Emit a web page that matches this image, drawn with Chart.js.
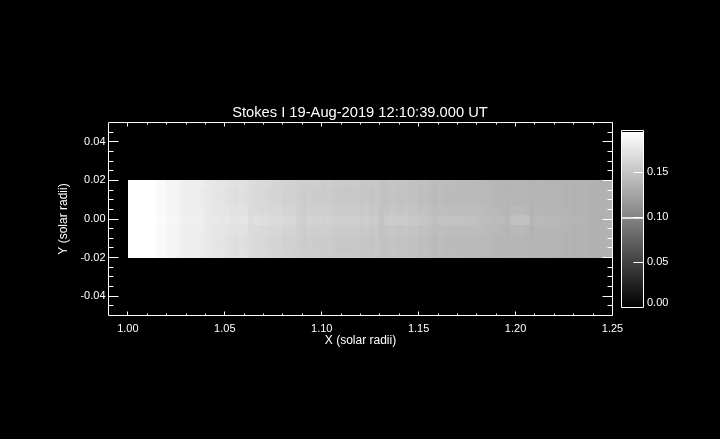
<!DOCTYPE html>
<html>
<head>
<meta charset="utf-8">
<title>Stokes I</title>
<script src="https://cdn.jsdelivr.net/npm/chart.js@4"></script>
<style>
  html, body { margin: 0; padding: 0; width: 720px; height: 439px; background: #000; overflow: hidden; }
  canvas { position: absolute; left: 0; top: 0; }
</style>
</head>
<body>
<canvas id="image" width="720" height="439"></canvas>
<canvas id="colorbar" width="720" height="439"></canvas>
<script>
// Stokes I readings in 1e-3 units, one list per row type, 100 columns from x = 1.00 to 1.25
const rowEdge = [
  230,225,218,212,206,200,192,192,188,188,187,184,183,183,183,182,179,178,177,176,
  175,173,172,173,172,169,168,167,167,165,164,164,162,162,161,159,158,159,158,158,
  157,158,156,155,155,155,155,155,153,154,152,153,150,150,152,151,150,151,149,149,
  147,148,146,144,146,145,144,145,144,144,143,143,143,142,142,141,141,140,139,140,
  139,140,139,138,139,139,138,138,138,138,137,138,137,137,138,137,137,136,137,137];
const rowOuter = [
  230,225,218,212,206,200,192,192,188,188,187,184,183,183,182,181,178,177,176,175,
  174,172,171,172,171,168,167,166,166,164,163,163,161,161,160,158,157,158,157,157,
  156,157,155,154,154,154,154,154,152,153,151,152,149,149,151,150,149,150,148,148,
  146,147,145,143,145,144,143,144,143,143,143,143,143,142,142,141,141,140,139,140,
  139,140,139,138,139,139,138,138,138,138,137,138,137,137,138,137,137,136,137,137];
const rowInner = [
  230,225,218,212,206,200,192,192,188,188,187,184,183,183,183,182,179,178,177,176,
  176,174,173,174,173,168,168,167,167,165,165,165,163,163,162,159,157,160,159,159,
  158,159,157,156,156,156,156,156,154,155,153,154,149,151,153,152,151,152,150,150,
  148,149,147,145,146,146,145,146,145,145,145,145,145,144,143,142,142,141,139,142,
  142,142,141,137,140,140,139,139,139,139,138,138,137,137,138,137,137,136,137,137];
const rowCentre = [
  230,225,218,212,206,200,193,193,189,189,188,185,184,184,184,183,180,179,178,177,
  178,176,175,176,175,170,172,171,171,169,168,168,166,166,165,161,159,163,162,162,
  161,162,160,159,159,159,159,159,157,158,156,157,150,155,157,156,155,156,154,154,
  152,152,151,147,149,150,149,150,149,148,148,148,147,146,145,144,144,143,141,148,
  148,148,148,139,143,143,142,142,142,141,140,139,139,138,138,137,137,136,137,137];

// the rows from y = 0.02 down to y = -0.02
const rowTops = [0.02,0.0175,0.015,0.0125,0.01,0.0075,0.005,0.0025,0,-0.0025,-0.005,-0.0075,-0.01,-0.0125,-0.015,-0.0175];
const rowProfiles = [rowEdge,rowOuter,rowOuter,rowOuter,rowOuter,rowInner,rowInner,rowCentre,
  rowCentre,rowInner,rowInner,rowOuter,rowOuter,rowOuter,rowOuter,rowEdge];

const cellSize = 0.0025;
const rowOverlap = 0.0006; // rows overlap a little so no black seam shows between them
const firstColumn = 1.0;
const colorMax = 0.196;
const colorbarLine = [0.0986, 0.0996];

const titleText = "Stokes I 19-Aug-2019 12:10:39.000 UT";
const xAxisLabel = "X (solar radii)";
const yAxisLabel = "Y (solar radii)";

const xMajorTicks = [1.00,1.05,1.10,1.15,1.20,1.25];
const xMinorTicks = [1.01,1.02,1.03,1.04,1.06,1.07,1.08,1.09,1.11,1.12,1.13,1.14,1.16,1.17,1.18,1.19,1.21,1.22,1.23,1.24];
const yMajorTicks = [-0.04,-0.02,0,0.02,0.04];
const yMinorTicks = [-0.045,-0.035,-0.03,-0.025,-0.015,-0.01,-0.005,0.005,0.01,0.015,0.025,0.03,0.035,0.045];
const barMajorTicks = [0.05,0.10,0.15];
const barLabelValues = [0.0045,0.05,0.10,0.15]; // IDL lifts the 0.00 label off the bottom of the bar
const barLabels = ["0.00","0.05","0.10","0.15"];

Chart.defaults.color = "#fff";
Chart.defaults.font.family = "'Liberation Sans', sans-serif";
Chart.defaults.font.size = 11;
Chart.defaults.animation = false;
Chart.defaults.devicePixelRatio = 1;
Chart.defaults.responsive = false;
Chart.defaults.events = [];
Chart.defaults.plugins.legend.display = false;
Chart.defaults.plugins.tooltip.enabled = false;

function greyFor(milli) {
  const g = Math.min(255, Math.round(milli / 1000 / colorMax * 255));
  return "rgb(" + g + "," + g + "," + g + ")";
}

function crisp(p) { return Math.round(p - 0.5) + 0.5; }

// IDL style box: frame plus inward ticks on the sides listed in the chart's options
const idlBox = {
  id: "idlBox",
  afterDraw(chart, args, opts) {
    const { ctx, chartArea: a, scales } = chart;
    ctx.save();
    ctx.strokeStyle = "#fff";
    ctx.lineWidth = 1;
    ctx.beginPath();
    ctx.rect(a.left, a.top, a.right - a.left, a.bottom - a.top);
    const hTick = (v, len, left, right) => {
      const y = crisp(scales.y.getPixelForValue(v));
      if (left) { ctx.moveTo(a.left, y); ctx.lineTo(a.left + len, y); }
      if (right) { ctx.moveTo(a.right, y); ctx.lineTo(a.right - len, y); }
    };
    (opts.yMajor || []).forEach(v => hTick(v, opts.yMajorLen, opts.leftTicks, true));
    (opts.yMinor || []).forEach(v => hTick(v, opts.yMinorLen, opts.leftTicks, true));
    const vTick = (v, len) => {
      const x = crisp(scales.x.getPixelForValue(v));
      ctx.moveTo(x, a.bottom); ctx.lineTo(x, a.bottom - len);
      ctx.moveTo(x, a.top); ctx.lineTo(x, a.top + len);
    };
    (opts.xMajor || []).forEach(v => vTick(v, opts.xMajorLen));
    (opts.xMinor || []).forEach(v => vTick(v, opts.xMinorLen));
    ctx.stroke();
    ctx.restore();
  }
};

const imageDatasets = rowProfiles.map((profile, r) => ({
  data: profile.map((v, c) => ({
    x: firstColumn + (c + 0.5) * cellSize,
    y: [rowTops[r] - cellSize - rowOverlap, rowTops[r] + rowOverlap]
  })),
  backgroundColor: profile.map(greyFor),
  grouped: false,
  barPercentage: 1.25,
  categoryPercentage: 1,
  borderWidth: 0,
  // the clip gives the block hard edges on whole pixels: 128 to the frame, 180 to 258
  clip: { left: -19.5, right: 0, top: -57.5, bottom: -57.5 }
}));

new Chart(document.getElementById("image"), {
  type: "bar",
  data: { datasets: imageDatasets },
  options: {
    plugins: {
      title: {
        display: true,
        text: titleText,
        color: "#fff",
        font: { size: 14.7, weight: "normal" },
        padding: { top: 104, bottom: 0.9 }
      },
      idlBox: {
        leftTicks: true,
        xMajor: xMajorTicks, xMinor: xMinorTicks, xMajorLen: 4, xMinorLen: 2,
        yMajor: yMajorTicks, yMinor: yMinorTicks, yMajorLen: 10, yMinorLen: 5
      }
    },
    scales: {
      x: {
        type: "linear",
        offset: false,
        min: 0.99,
        max: 1.25,
        grid: { display: false, drawTicks: false },
        border: { display: false },
        afterBuildTicks: s => { s.ticks = xMajorTicks.map(v => ({ value: v })); },
        afterFit: s => { s.height = 123.5; },
        ticks: { padding: 6.5, maxRotation: 0, autoSkip: false, color: "#fff", callback: v => v.toFixed(2) },
        title: { display: true, text: xAxisLabel, color: "#fff", font: { size: 12 }, padding: { top: 0, bottom: 91 } }
      },
      y: {
        type: "linear",
        min: -0.05,
        max: 0.05,
        grid: { display: false, drawTicks: false },
        border: { display: false },
        afterBuildTicks: s => { s.ticks = yMajorTicks.map(v => ({ value: v })); },
        afterFit: s => { s.width = 108.5; },
        ticks: { padding: 3, autoSkip: false, color: "#fff", callback: v => v.toFixed(2) },
        title: { display: true, text: yAxisLabel, color: "#fff", font: { size: 12 }, padding: { top: 56, bottom: 0 } }
      },
      // empty right axis keeps the plot box where it belongs and the title centred on the page
      rightGap: {
        type: "linear",
        position: "right",
        grid: { display: false, drawTicks: false },
        border: { display: false },
        ticks: { display: false },
        afterFit: s => { s.width = 107.5; }
      }
    }
  },
  plugins: [idlBox]
});

new Chart(document.getElementById("colorbar"), {
  type: "bar",
  data: {
    labels: ["I"],
    datasets: [
      {
        data: [colorbarLine],
        backgroundColor: "#fff",
        grouped: false,
        barPercentage: 1,
        categoryPercentage: 1
      },
      {
        data: [[0, colorMax]],
        backgroundColor: ctx => {
          const area = ctx.chart.chartArea;
          if (!area) return "#888";
          const g = ctx.chart.ctx.createLinearGradient(0, area.bottom, 0, area.top);
          g.addColorStop(0, "#000");
          g.addColorStop(0.991, "#fff");
          g.addColorStop(0.991, "#000");
          g.addColorStop(1, "#000");
          return g;
        },
        grouped: false,
        barPercentage: 1,
        categoryPercentage: 1
      }
    ]
  },
  options: {
    layout: { padding: { left: 621.5, right: 0, top: 130.5, bottom: 131.5 } },
    plugins: {
      idlBox: { leftTicks: false, yMajor: barMajorTicks, yMajorLen: 10 }
    },
    scales: {
      x: { display: false },
      y: {
        type: "linear",
        position: "right",
        min: 0,
        max: colorMax,
        grid: { display: false, drawTicks: false },
        border: { display: false },
        afterBuildTicks: s => { s.ticks = barLabelValues.map(v => ({ value: v })); },
        afterFit: s => { s.width = 76.5; },
        ticks: { padding: 3.5, autoSkip: false, color: "#fff", callback: (v, i) => barLabels[i] }
      }
    }
  },
  plugins: [idlBox]
});
</script>
</body>
</html>
